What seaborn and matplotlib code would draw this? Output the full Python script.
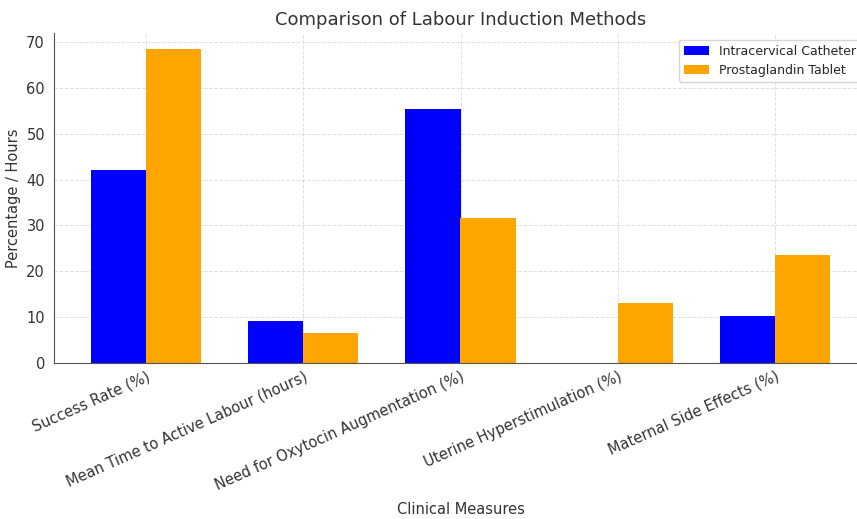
import matplotlib
matplotlib.use("Agg")
import matplotlib.pyplot as plt
import seaborn as sns
import pandas as pd

categories = ["Success Rate (%)", "Mean Time to Active Labour (hours)",
              "Need for Oxytocin Augmentation (%)", "Uterine Hyperstimulation (%)",
              "Maternal Side Effects (%)"]
catheter = [42.0, 9.2, 55.3, 0.0, 10.4]
tablet = [68.4, 6.7, 31.6, 13.2, 23.6]
series_names = ["Intracervical Catheter", "Prostaglandin Tablet"]

df = pd.DataFrame({
    "Measure": categories * 2,
    "Value": catheter + tablet,
    "Method": [series_names[0]] * len(categories) + [series_names[1]] * len(categories),
})

sns.set_style("white")
plt.rcParams['font.family'] = ['DejaVu Sans']

fig = plt.figure(figsize=(8.57, 5.19), dpi=100)
ax = fig.add_axes([54/857, 1 - 363.3/519, (867 - 54)/857, (363.3 - 33.3)/519])

sns.barplot(data=df, x="Measure", y="Value", hue="Method",
            palette=["blue", "orange"], width=0.7, saturation=1, ax=ax,
            edgecolor="none", linewidth=0)

ax.set_xlim(-0.585, 4.585)
ax.grid(True, linestyle="--", color="#d8d8d8", alpha=0.8, linewidth=0.7)
ax.set_axisbelow(True)
for s in ["top", "right"]:
    ax.spines[s].set_visible(False)
ax.spines["left"].set_color("#555555")
ax.spines["bottom"].set_color("#555555")
ax.tick_params(axis="y", length=3, labelsize=10.5, colors="#333333")
ax.tick_params(axis="x", length=0, labelsize=10.5, colors="#333333", pad=4)
plt.setp(ax.get_xticklabels(), rotation=24, ha="right", rotation_mode="anchor")

ax.set_title("Comparison of Labour Induction Methods", fontsize=13, color="#333333", pad=6)
ax.set_xlabel("Clinical Measures", fontsize=10.5, color="#333333")
ax.xaxis.set_label_coords(0.5, (363.3 - 509) / 330)
ax.xaxis.label.set_va("center")
ax.set_ylabel("Percentage / Hours", fontsize=10.5, color="#333333")
ax.legend(loc="upper right", fontsize=9, frameon=True, title=None)

fig.savefig("out.png", dpi=100)
